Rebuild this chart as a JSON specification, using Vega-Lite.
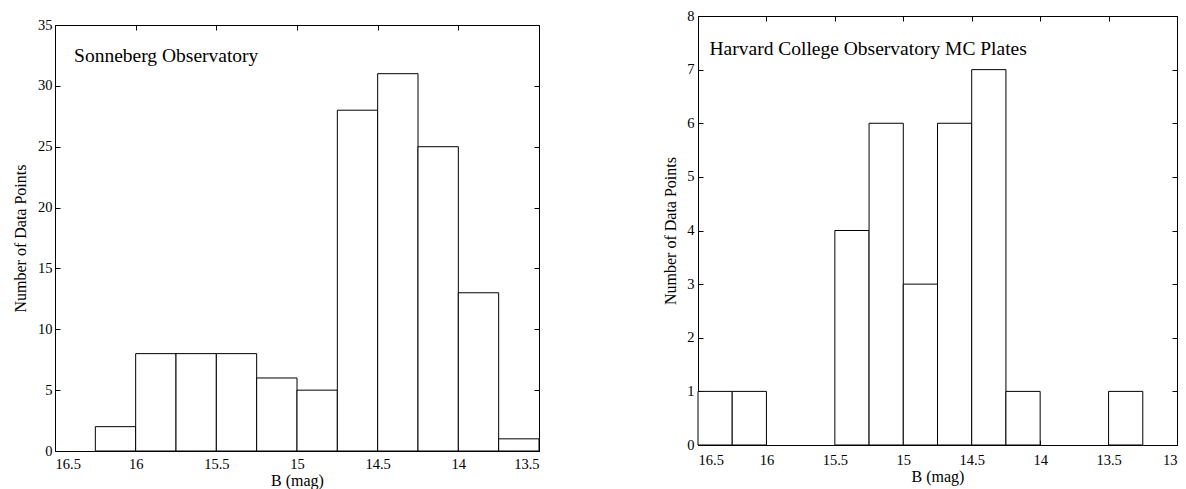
{
  "$schema": "https://vega.github.io/schema/vega-lite/v6.json",
  "padding": {"left": 12, "top": 7, "right": 5, "bottom": 0},
  "spacing": 122,
  "config": {
    "font": "Liberation Serif",
    "view": {"stroke": "black", "strokeWidth": 1},
    "axis": {
      "domainColor": "black", "tickColor": "black", "labelColor": "black", "titleColor": "black",
      "labelFont": "Liberation Serif", "titleFont": "Liberation Serif",
      "labelFontSize": 14.5, "titleFontSize": 16, "titleFontWeight": "normal",
      "grid": false, "tickSize": -5
    }
  },
  "hconcat": [
    {
      "width": 484, "height": 435,
      "view": {"stroke": null},
      "data": {"values": [
        {"lo": 16.25, "hi": 16.0, "n": 2},
        {"lo": 16.0, "hi": 15.75, "n": 8},
        {"lo": 15.75, "hi": 15.5, "n": 8},
        {"lo": 15.5, "hi": 15.25, "n": 8},
        {"lo": 15.25, "hi": 15.0, "n": 6},
        {"lo": 15.0, "hi": 14.75, "n": 5},
        {"lo": 14.75, "hi": 14.5, "n": 28},
        {"lo": 14.5, "hi": 14.25, "n": 31},
        {"lo": 14.25, "hi": 14.0, "n": 25},
        {"lo": 14.0, "hi": 13.75, "n": 13},
        {"lo": 13.75, "hi": 13.5, "n": 1}
      ]},
      "resolve": {"axis": {"x": "independent", "y": "independent"}},
      "layer": [
        {
          "mark": {"type": "bar", "fill": "white", "stroke": "black", "strokeWidth": 1},
          "encoding": {
            "x": {"field": "lo", "type": "quantitative",
              "scale": {"domain": [13.5, 16.5], "reverse": true, "nice": false, "zero": false},
              "axis": {"orient": "bottom", "values": [16.5, 16, 15.5, 15, 14.5, 14, 13.5], "format": "~g", "title": "B (mag)", "labelPadding": 11, "titlePadding": 2}},
            "x2": {"field": "hi"},
            "y": {"field": "n", "type": "quantitative",
              "scale": {"domain": [0, 35], "range": [435, 9], "nice": false, "zero": true},
              "axis": {"orient": "left", "values": [0, 5, 10, 15, 20, 25, 30, 35], "title": "Number of Data Points", "labelPadding": 8, "titlePadding": 9}},
            "y2": {"datum": 0}
          }
        },
        {
          "mark": {"type": "bar", "opacity": 0},
          "encoding": {
            "x": {"field": "lo", "type": "quantitative",
              "scale": {"domain": [13.5, 16.5], "reverse": true, "nice": false, "zero": false},
              "axis": {"orient": "top", "values": [16.5, 16, 15.5, 15, 14.5, 14, 13.5], "labels": false, "title": null, "offset": -9}},
            "x2": {"field": "hi"},
            "y": {"field": "n", "type": "quantitative",
              "scale": {"domain": [0, 35], "range": [435, 9], "nice": false, "zero": true},
              "axis": {"orient": "right", "values": [0, 5, 10, 15, 20, 25, 30, 35], "labels": false, "title": null}},
            "y2": {"datum": 0}
          }
        },
        {
          "data": {"values": [{"label": "Sonneberg Observatory"}]},
          "mark": {"type": "text", "align": "left", "baseline": "alphabetic", "fontSize": 19.5, "font": "Liberation Serif", "color": "black"},
          "encoding": {
            "x": {"datum": 16.382, "type": "quantitative", "axis": null},
            "y": {"datum": 31.92, "type": "quantitative", "axis": null},
            "text": {"field": "label"}
          }
        }
      ]
    },
    {
      "width": 479, "height": 429,
      "data": {"values": [
        {"lo": 16.5, "hi": 16.25, "n": 1},
        {"lo": 16.25, "hi": 16.0, "n": 1},
        {"lo": 15.5, "hi": 15.25, "n": 4},
        {"lo": 15.25, "hi": 15.0, "n": 6},
        {"lo": 15.0, "hi": 14.75, "n": 3},
        {"lo": 14.75, "hi": 14.5, "n": 6},
        {"lo": 14.5, "hi": 14.25, "n": 7},
        {"lo": 14.25, "hi": 14.0, "n": 1},
        {"lo": 13.5, "hi": 13.25, "n": 1}
      ]},
      "resolve": {"axis": {"x": "independent", "y": "independent"}},
      "layer": [
        {
          "mark": {"type": "bar", "fill": "white", "stroke": "black", "strokeWidth": 1},
          "encoding": {
            "x": {"field": "lo", "type": "quantitative",
              "scale": {"domain": [13, 16.5], "reverse": true, "nice": false, "zero": false},
              "axis": {"orient": "bottom", "values": [16.5, 16, 15.5, 15, 14.5, 14, 13.5, 13], "format": "~g", "title": "B (mag)", "labelPadding": 13, "titlePadding": 2}},
            "x2": {"field": "hi"},
            "y": {"field": "n", "type": "quantitative",
              "scale": {"domain": [0, 8], "nice": false, "zero": true},
              "axis": {"orient": "left", "values": [0, 1, 2, 3, 4, 5, 6, 7, 8], "title": "Number of Data Points", "labelPadding": 9, "titlePadding": 8}},
            "y2": {"datum": 0}
          }
        },
        {
          "mark": {"type": "bar", "opacity": 0},
          "encoding": {
            "x": {"field": "lo", "type": "quantitative",
              "scale": {"domain": [13, 16.5], "reverse": true, "nice": false, "zero": false},
              "axis": {"orient": "top", "values": [16.5, 16, 15.5, 15, 14.5, 14, 13.5, 13], "labels": false, "title": null}},
            "x2": {"field": "hi"},
            "y": {"field": "n", "type": "quantitative",
              "scale": {"domain": [0, 8], "nice": false, "zero": true},
              "axis": {"orient": "right", "values": [0, 1, 2, 3, 4, 5, 6, 7, 8], "labels": false, "title": null}},
            "y2": {"datum": 0}
          }
        },
        {
          "data": {"values": [{"label": "Harvard College Observatory MC Plates"}]},
          "mark": {"type": "text", "align": "left", "baseline": "alphabetic", "fontSize": 19.5, "font": "Liberation Serif", "color": "black"},
          "encoding": {
            "x": {"datum": 16.416, "type": "quantitative", "axis": null},
            "y": {"datum": 7.28, "type": "quantitative", "axis": null},
            "text": {"field": "label"}
          }
        }
      ]
    }
  ]
}
